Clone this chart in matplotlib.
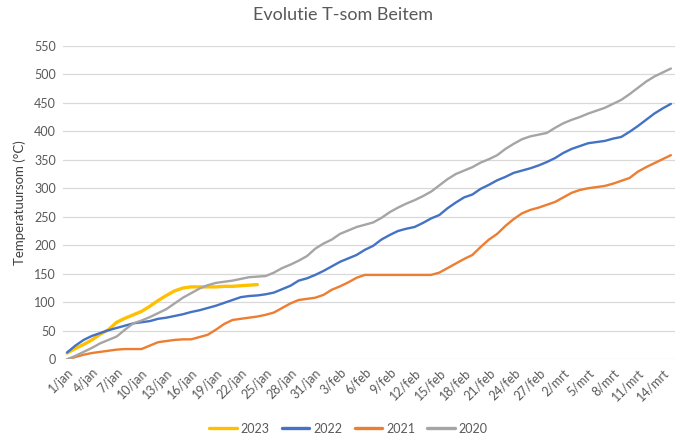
import datetime as dt
import matplotlib
matplotlib.use("Agg")
from matplotlib import pyplot as plt

# dagen 1/jan .. 15/mrt (74 dagen)
maanden = {1: "jan", 2: "feb", 3: "mrt"}
start = dt.date(2023, 1, 1)
dagen = [start + dt.timedelta(days=i) for i in range(74)]
labels = ["%d/%s" % (d.day, maanden[d.month]) for d in dagen]

t2020 = [0, 6, 13, 20, 28, 34, 40, 52, 63, 68, 74, 81, 88, 98, 108, 116, 124, 130, 134, 136,
         138, 141, 144, 145, 146, 152, 160, 166, 173, 181, 194, 203, 210, 220, 226, 232, 236, 240, 248, 258,
         266, 273, 279, 286, 294, 305, 316, 325, 331, 337, 345, 351, 358, 369, 378, 386, 391, 394, 397, 406,
         414, 420, 425, 431, 436, 441, 448, 455, 465, 476, 487, 496, 503, 510]
t2021 = [0, 4, 8, 11, 13, 15, 17, 18, 18, 18, 24, 30, 32, 34, 35, 35, 39, 43, 52, 62,
         69, 71, 73, 75, 78, 82, 90, 98, 104, 106, 108, 113, 122, 128, 135, 143, 148, 148, 148, 148,
         148, 148, 148, 148, 148, 152, 160, 168, 176, 183, 197, 210, 220, 234, 246, 256, 262, 266, 271, 276,
         284, 292, 297, 300, 302, 304, 308, 313, 318, 329, 337, 344, 351, 358]
t2022 = [12, 24, 34, 41, 46, 51, 55, 59, 63, 65, 67, 71, 73, 76, 79, 83, 86, 90, 94, 99,
         104, 109, 111, 112, 114, 117, 123, 129, 138, 142, 148, 155, 163, 171, 177, 183, 192, 199, 210, 218,
         225, 229, 232, 239, 247, 253, 265, 275, 284, 289, 299, 306, 314, 320, 327, 331, 335, 340, 346, 353,
         362, 369, 374, 379, 381, 383, 387, 390, 399, 409, 420, 431, 440, 448]
t2023 = [11, 19, 26, 34, 44, 52, 65, 72, 78, 84, 93, 103, 112, 120, 125, 127, 127, 127, 127, 128,
         128, 129, 130, 131]

reeksen = [("2023", t2023, "#FFC000", 2.4),
           ("2022", t2022, "#4472C4", 1.7),
           ("2021", t2021, "#ED7D31", 1.7),
           ("2020", t2020, "#A5A5A5", 1.7)]

plt.rcParams["font.family"] = ["Lato", "DejaVu Sans"]
fig = plt.figure(figsize=(6.86, 4.46), dpi=100)
ax = fig.add_axes([0.0918, 0.1944, 0.8922, 0.7031])

for naam, waarden, kleur, lw in reeksen:
    ax.plot(range(len(waarden)), waarden, color=kleur, lw=lw, label=naam,
            solid_capstyle="round", solid_joinstyle="round")

ax.set_xlim(-0.5, 73.5)
ax.set_ylim(0, 550)
ax.set_yticks(range(0, 551, 50))
ax.set_xticks(range(0, 74, 3))
ax.set_xticklabels(labels[::3], rotation=45, ha="right", rotation_mode="anchor")
ax.tick_params(length=0, labelsize=9, colors="#595959", pad=5)
ax.grid(axis="y", color="#D9D9D9", lw=0.9)
ax.set_axisbelow(True)
for s in ax.spines.values():
    s.set_visible(False)
ax.set_ylabel("Temperatuursom (°C)", fontsize=9.5, color="#404040", labelpad=6)
fig.suptitle("Evolutie T-som Beitem", fontsize=13, color="#595959", y=0.985)
leg = fig.legend(loc="lower center", ncol=4, frameon=False, fontsize=9,
                 bbox_to_anchor=(0.508, 0.0), handlelength=2.2, handletextpad=0.3,
                 columnspacing=1.0, labelcolor="#595959")
for lijn in leg.get_lines():
    lijn.set_linewidth(2.4)
fig.savefig("out.png", dpi=100)
